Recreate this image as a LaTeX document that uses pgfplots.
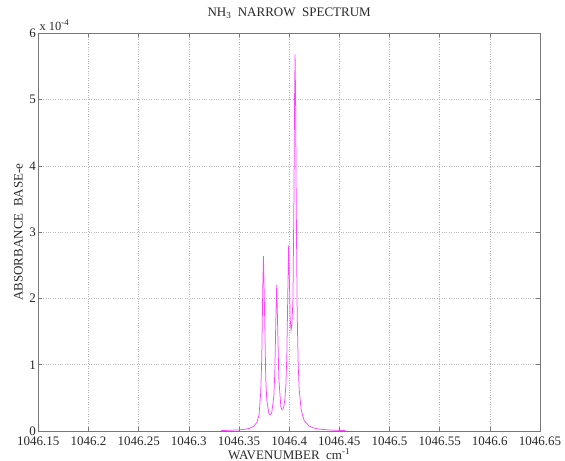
\documentclass[border=0pt]{standalone}
\usepackage{fontspec}
\setmainfont{Liberation Serif}
\usepackage{pgfplots}
\pgfplotsset{compat=1.18}
\definecolor{spec}{RGB}{255,70,255}
\definecolor{frame}{RGB}{120,120,120}
\definecolor{txt}{RGB}{40,40,40}

% x is stored as wavenumber minus 1046 (keeps the fpu precise); y in units of 1e-4
\pgfplotstableread{
x y
0.3320 0.008
0.3400 0.010
0.3500 0.017
0.3550 0.024
0.3600 0.038
0.3650 0.073
0.3680 0.134
0.3700 0.244
0.3717 0.594
0.3727 1.10
0.3737 2.15
0.3744 2.64
0.3752 2.04
0.3767 0.773
0.3777 0.472
0.3797 0.270
0.3807 0.245
0.3817 0.248
0.3827 0.280
0.3847 0.516
0.3857 0.874
0.3867 1.66
0.3876 2.21
0.3887 1.47
0.3897 0.80
0.3917 0.367
0.3927 0.325
0.3937 0.328
0.3947 0.372
0.3957 0.473
0.3967 0.683
0.3977 1.147
0.3987 2.126
0.3995 2.80
0.4003 2.24
0.4010 1.70
0.4019 1.52
0.4028 1.62
0.4038 2.00
0.4048 3.58
0.4054 5.03
0.4059 5.68
0.4064 5.03
0.4070 3.53
0.4080 1.78
0.4090 1.00
0.4100 0.63
0.4120 0.316
0.4150 0.156
0.4200 0.072
0.4250 0.042
0.4300 0.028
0.4400 0.015
0.4500 0.009
0.4560 0.007
}\spectrum

\begin{document}
\begin{tikzpicture}
\begin{axis}[
  width=501.7pt,height=397.7pt,scale only axis,
  xmin=0.15,xmax=0.65,ymin=0,ymax=6,
  xtick={0.15,0.2,0.25,0.3,0.35,0.4,0.45,0.5,0.55,0.6,0.65},
  xticklabels={1046.15,1046.2,1046.25,1046.3,1046.35,1046.4,1046.45,1046.5,1046.55,1046.6,1046.65},
  ytick={0,1,2,3,4,5,6},
  /pgf/number format/assume math mode=true,
  tick label style={font=\fontsize{13}{15}\selectfont,text=txt},
  xticklabel style={anchor=base,yshift=-15pt},
  yticklabel style={xshift=1pt},
  title={NH\textsubscript{3}\ \ NARROW\ \ SPECTRUM},
  title style={font=\fontsize{13}{15}\selectfont,text=txt,at={(rel axis cs:0.5,1)},anchor=base,yshift=11pt},
  xlabel={WAVENUMBER\ \ cm\textsuperscript{-1}},
  xlabel style={font=\fontsize{13}{15}\selectfont,text=txt,at={(rel axis cs:0.5,0)},anchor=base,yshift=-28pt},
  ylabel={ABSORBANCE\ \ BASE-e},
  ylabel style={font=\fontsize{13}{15}\selectfont,text=txt,at={(rel axis cs:0,0.5)},anchor=center,yshift=20pt},
  grid=major,
  major grid style={dotted,black!28,line width=0.5pt},
  axis line style={frame,line width=0.9pt},
  tick style={frame,line width=0.6pt},
  major tick length=4pt,
  tick align=inside,
  clip mode=individual,
]
\addplot[spec,line width=0.75pt] table[x=x,y=y] {\spectrum};
\node[anchor=base west,inner sep=0pt,font=\fontsize{12.5}{14}\selectfont,text=txt] at (rel axis cs:0,1) [yshift=3pt,xshift=1pt] {x 10\textsuperscript{-4}};
\coordinate (bl) at (rel axis cs:0,0);
\coordinate (tr) at (rel axis cs:1,1);
\end{axis}
\pgfresetboundingbox
\path[use as bounding box] ([xshift=-38.3pt,yshift=-30pt]bl) rectangle ([xshift=25pt,yshift=33.3pt]tr);
\end{tikzpicture}
\end{document}
